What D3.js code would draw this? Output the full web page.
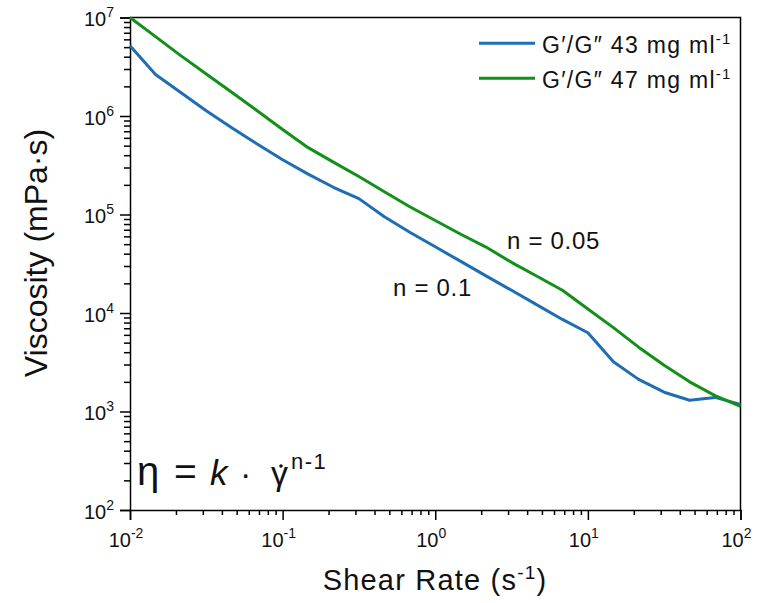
<!DOCTYPE html>
<html>
<head>
<meta charset="utf-8">
<script src="https://cdn.jsdelivr.net/npm/d3@7"></script>
<style>
  html, body { margin: 0; padding: 0; background: #fff; }
  svg { display: block; font-family: "Liberation Sans", Arial, sans-serif; }
</style>
</head>
<body>
<svg id="chart" width="760" height="603"></svg>
<script>
// ---- data ----
const shearRate = [0.01, 0.0147, 0.0215, 0.0316, 0.0464, 0.0681, 0.1, 0.147, 0.215, 0.316, 0.464, 0.681,
  1, 1.47, 2.15, 3.16, 4.64, 6.81, 10, 14.7, 21.5, 31.6, 46.4, 68.1, 100];
const visc43 = [5.17e6, 2.64e6, 1.73e6, 1.13e6, 7.6e5, 5.2e5, 3.6e5, 2.57e5, 1.89e5, 1.45e5, 9.5e4, 6.6e4,
  4.7e4, 3.34e4, 2.38e4, 1.7e4, 1.21e4, 8.6e3, 6.3e3, 3.2e3, 2.12e3, 1.57e3, 1.30e3, 1.39e3, 1.18e3];
const visc47 = [1.0e7, 6.4e6, 4.1e6, 2.67e6, 1.74e6, 1.13e6, 7.3e5, 4.77e5, 3.4e5, 2.43e5, 1.70e5, 1.2e5,
  8.7e4, 6.3e4, 4.67e4, 3.27e4, 2.36e4, 1.7e4, 1.1e4, 7.1e3, 4.5e3, 2.95e3, 2.0e3, 1.45e3, 1.13e3];
const seriesNames = ["43", "47"];
const xTickExps = [-2, -1, 0, 1, 2];
const yTickExps = [2, 3, 4, 5, 6, 7];

(function () {
const svg = d3.select("#chart");
const pL = 130, pR = 740.5, pT = 17.5, pB = 510;
const x = d3.scaleLog().domain([0.01, 100]).range([pL, pR]);
const y = d3.scaleLog().domain([100, 1e7]).range([pB, pT]);

const colors = ["#1f6eb4", "#12901a"];

function minors(lo, hi) {
  const out = [];
  for (let e = lo; e < hi; e++) for (let m = 2; m <= 9; m++) out.push(m * Math.pow(10, e));
  return out;
}

// frame (top & right)
svg.append("path")
  .attr("d", `M${pL},${pT}H${pR}V${pB}`)
  .attr("fill", "none").attr("stroke", "#000").attr("stroke-width", 1.5);

// x axis
const gx = svg.append("g").attr("transform", `translate(0,${pB})`);
gx.call(d3.axisBottom(x).tickValues(xTickExps.map(e => Math.pow(10, e))).tickSize(10).tickFormat(""));
const gxm = gx.append("g").call(d3.axisBottom(x).tickValues(minors(-2, 2)).tickSize(5).tickFormat(""));
gxm.select("path.domain").remove();
gx.selectAll("path.domain").attr("stroke-width", 1.5);
gx.selectAll("line").attr("stroke-width", 1.5);

// y axis
const gy = svg.append("g").attr("transform", `translate(${pL},0)`);
gy.call(d3.axisLeft(y).tickValues(yTickExps.map(e => Math.pow(10, e))).tickSize(10).tickFormat(""));
const gym = gy.append("g").call(d3.axisLeft(y).tickValues(minors(2, 7)).tickSize(6).tickFormat(""));
gym.select("path.domain").remove();
gy.selectAll("path.domain").attr("stroke-width", 1.5);
gy.selectAll("line").attr("stroke-width", 1.5);

// x tick labels
xTickExps.forEach(e => {
  const t = svg.append("text")
    .attr("x", x(Math.pow(10, e)) - 4).attr("y", 546.5)
    .attr("text-anchor", "middle").attr("font-size", 20).attr("fill", "#111");
  t.append("tspan").text("10");
  t.append("tspan").attr("dy", -9).attr("font-size", 14).text(e < 0 ? "-" + (-e) : String(e));
});
// y tick labels
yTickExps.forEach(e => {
  const t = svg.append("text")
    .attr("x", 114).attr("y", y(Math.pow(10, e)) + 8.5)
    .attr("text-anchor", "end").attr("font-size", 20).attr("fill", "#111");
  t.append("tspan").text("10");
  t.append("tspan").attr("dy", -9).attr("font-size", 14).text(String(e));
});

// axis titles
const xt = svg.append("text").attr("x", 435).attr("y", 590)
  .attr("text-anchor", "middle").attr("font-size", 29).attr("letter-spacing", 1.2).attr("fill", "#111");
xt.append("tspan").text("Shear Rate (s");
xt.append("tspan").attr("dy", -11).attr("font-size", 19).text("-1");
xt.append("tspan").attr("dy", 11).text(")");

svg.append("text")
  .attr("transform", "translate(47,253) rotate(-90)")
  .attr("text-anchor", "middle").attr("font-size", 32).attr("fill", "#111")
  .text("Viscosity (mPa·s)");

// lines
const series = [visc43, visc47];
const line = d3.line().x(d => x(d[0])).y(d => y(d[1]));
series.forEach((vals, i) => {
  svg.append("path")
    .datum(shearRate.map((s, j) => [s, vals[j]]))
    .attr("d", line)
    .attr("fill", "none").attr("stroke", colors[i]).attr("stroke-width", 3)
    .attr("stroke-linejoin", "round");
});

// legend
seriesNames.forEach((n, i) => {
  const ly = 43.3 + i * 35;
  svg.append("line").attr("x1", 479).attr("x2", 535).attr("y1", ly).attr("y2", ly)
    .attr("stroke", colors[i]).attr("stroke-width", 3);
  const t = svg.append("text").attr("x", 542).attr("y", ly + 10)
    .attr("font-size", 23).attr("letter-spacing", 1.3).attr("fill", "#111");
  t.append("tspan").text(`G′/G″ ${n} mg ml`);
  t.append("tspan").attr("dy", -9).attr("font-size", 15).text("-1");
});

// annotations
svg.append("text").attr("x", 507).attr("y", 249).attr("font-size", 24).attr("letter-spacing", 0.7)
  .attr("fill", "#111").text("n = 0.05");
svg.append("text").attr("x", 393).attr("y", 296).attr("font-size", 24).attr("letter-spacing", 0.7)
  .attr("fill", "#111").text("n = 0.1");

// equation
const eqY = 485;
const eq = svg.append("g").attr("fill", "#111");
eq.append("text").attr("x", 137).attr("y", eqY).attr("font-size", 40).text("η");
eq.append("text").attr("x", 174).attr("y", eqY).attr("font-size", 39).text("=");
eq.append("text").attr("x", 210).attr("y", eqY).attr("font-size", 35).attr("font-style", "italic").text("k");
eq.append("text").attr("x", 240).attr("y", eqY).attr("font-size", 34).text("·");
eq.append("text").attr("x", 271).attr("y", eqY).attr("font-size", 34).text("γ");
eq.append("circle").attr("cx", 281).attr("cy", 466).attr("r", 1.8);
eq.append("text").attr("x", 291).attr("y", 469).attr("font-size", 22).attr("letter-spacing", 1.5).text("n-1");
})();
</script>
</body>
</html>
